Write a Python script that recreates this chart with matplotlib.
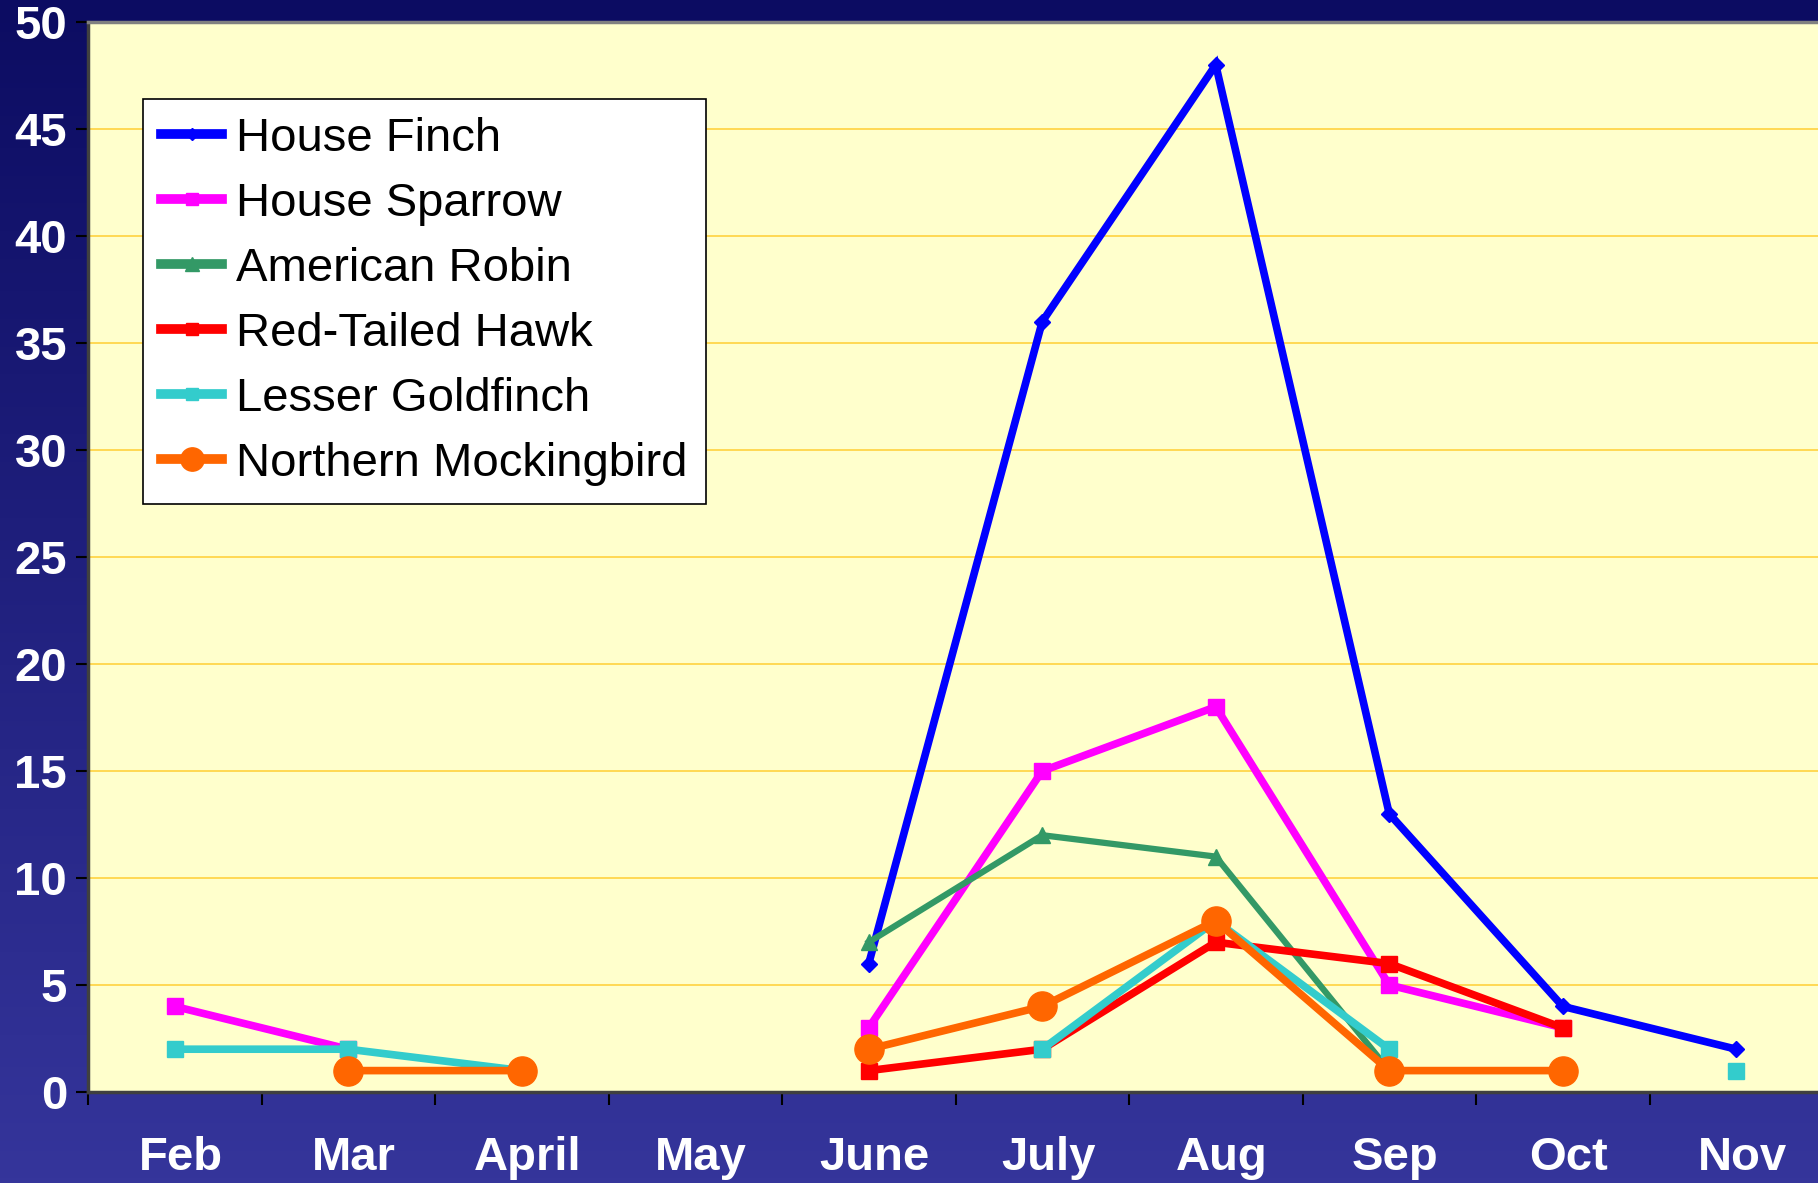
import matplotlib
matplotlib.use("Agg")
import matplotlib.pyplot as plt
import matplotlib.transforms as mtransforms
import numpy as np
from matplotlib.colors import LinearSegmentedColormap

nan = np.nan
meses = ['Feb', 'Mar', 'April', 'May', 'June', 'July', 'Aug', 'Sep', 'Oct', 'Nov']

house_finch = [2, nan, nan, nan, 6, 36, 48, 13, 4, 2]
house_sparrow = [4, 2, nan, nan, 3, 15, 18, 5, 3, nan]
american_robin = [nan, nan, nan, nan, 7, 12, 11, 1, nan, nan]
red_tailed_hawk = [nan, nan, nan, nan, 1, 2, 7, 6, 3, nan]
lesser_goldfinch = [2, 2, 1, nan, nan, 2, 8, 2, nan, 1]
mockingbird = [nan, 1, 1, nan, 2, 4, 8, 1, 1, nan]

plt.rcParams['font.family'] = ['Liberation Sans', 'DejaVu Sans']

fig = plt.figure(figsize=(18.18, 11.83), dpi=100)

# fondo degradado azul
bg = fig.add_axes([0, 0, 1, 1], zorder=-10)
cmap = LinearSegmentedColormap.from_list('fondo', ['#0c0c62', '#35359b'])
bg.imshow(np.linspace(0, 1, 256).reshape(-1, 1), aspect='auto', cmap=cmap,
          extent=[0, 1, 0, 1], origin='upper')
bg.axis('off')

ax = fig.add_axes([88 / 1818, 91 / 1183, 1735 / 1818, 1070 / 1183])
ax.set_facecolor('#FFFFCC')

x = np.arange(len(meses))
series = [
    ('House Finch', house_finch, '#0000FF', 'D', 8, 5.5),
    ('House Sparrow', house_sparrow, '#FF00FF', 's', 11, 5.5),
    ('American Robin', american_robin, '#339966', '^', 12, 4.5),
    ('Red-Tailed Hawk', red_tailed_hawk, '#FF0000', 's', 11, 5.5),
    ('Lesser Goldfinch', lesser_goldfinch, '#33CCCC', 's', 11, 5.5),
    ('Northern Mockingbird', mockingbird, '#FF6600', 'o', 21, 5.5),
]
for nombre, valores, color, marca, tam, ancho in series:
    ax.plot(x, valores, color=color, marker=marca, markersize=tam, linewidth=ancho,
            markeredgecolor=color, label=nombre, solid_joinstyle='miter')

ax.set_xlim(-0.5, 9.5)
ax.set_ylim(0, 50)
ax.set_yticks(np.arange(0, 51, 5))
ax.grid(axis='y', color='#FFD23F', linewidth=1.2)
ax.set_axisbelow(True)

# marcas en los limites de categoria, etiquetas al centro
ax.set_xticks(np.arange(-0.5, 9.6, 1))
ax.set_xticklabels([])
ax.set_xticks(x, minor=True)
ax.set_xticklabels(meses, minor=True)
ax.tick_params(axis='x', which='major', length=9, width=1.5, color='black', direction='out')
ax.tick_params(axis='x', which='minor', length=0, pad=32, labelsize=34, labelcolor='white')
ax.tick_params(axis='y', length=9, width=1.5, color='black', pad=6, labelsize=34, labelcolor='white')
desplaza = mtransforms.ScaledTranslation(6 / 100, 0, fig.dpi_scale_trans)
for lab in ax.get_xticklabels(minor=True):
    lab.set_fontweight('bold')
    lab.set_transform(lab.get_transform() + desplaza)
for lab in ax.get_yticklabels():
    lab.set_fontweight('bold')

ax.spines['top'].set_color('#808080')
ax.spines['top'].set_linewidth(2.5)
ax.spines['left'].set_color('#404040')
ax.spines['left'].set_linewidth(2.5)
ax.spines['bottom'].set_color('#404040')
ax.spines['bottom'].set_linewidth(2.5)
ax.spines['right'].set_visible(False)

leg = ax.legend(loc='upper left', bbox_to_anchor=(143 / 1818, 1 - 99 / 1183),
                bbox_transform=fig.transFigure, borderaxespad=0, fontsize=34,
                fancybox=False, framealpha=1, edgecolor='black', handlelength=1.3,
                handletextpad=0.3, labelspacing=0.445, borderpad=0.38, markerscale=0.8)
leg.get_frame().set_linewidth(1.2)
for linea in leg.get_lines():
    linea.set_linewidth(7)

fig.savefig('out.png', dpi=100)
